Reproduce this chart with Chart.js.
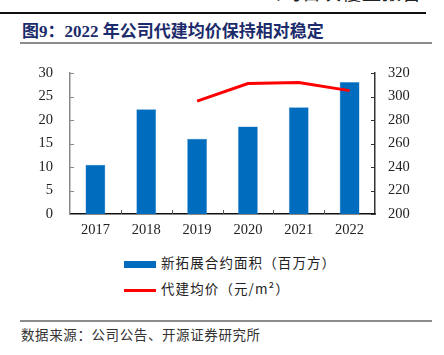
<!DOCTYPE html>
<html><head><meta charset="utf-8">
<script src="https://cdn.jsdelivr.net/npm/chart.js@4"></script>
<style>
html,body{margin:0;padding:0;background:#fff;width:444px;height:355px;overflow:hidden;position:relative;font-family:"Noto Sans CJK SC",sans-serif;}
#hdr{position:absolute;left:262px;top:-10px;height:15px;line-height:15px;font-size:19px;color:#222;letter-spacing:1px;white-space:nowrap;overflow:hidden;}
#hdr span{position:relative;top:-6px;}
#topline{position:absolute;left:0;top:12px;width:426px;height:2px;background:#111;}
#title{position:absolute;left:22px;top:17px;font-size:17px;font-weight:bold;color:#1c2b6b;font-family:"Liberation Serif","Noto Sans CJK SC",serif;white-space:nowrap;}
#line2{position:absolute;left:20px;top:42px;width:412px;height:2px;background:#8c8c8c;}
#wrap{position:absolute;left:0;top:0;width:444px;height:250px;}
#legend{position:absolute;left:124px;top:252px;font-size:13.5px;color:#222;}
.li{position:absolute;left:0;white-space:nowrap;height:20px;line-height:20px;letter-spacing:1.1px;}
.sw{display:inline-block;width:32px;vertical-align:middle;margin-right:5px;}
#line3{position:absolute;left:20px;top:320px;width:412px;height:2px;background:#8c8c8c;}
#src{position:absolute;left:21px;top:324px;font-size:13.5px;color:#333;letter-spacing:0.6px;white-space:nowrap;}
</style></head>
<body>
<div id="hdr"><span>公司首次覆盖报告</span></div>
<div id="topline"></div>
<div id="title">图9：2022 年公司代建均价保持相对稳定</div>
<div id="line2"></div>
<div id="wrap"><canvas id="c" width="444" height="250"></canvas></div>
<div id="legend"></div>
<div id="line3"></div>
<div id="src">数据来源：公司公告、开源证券研究所</div>
<script>
const categories = ['2017','2018','2019','2020','2021','2022'];
const areaValues = [10.5, 22.3, 16.0, 18.6, 22.7, 28.1];
const priceValues = [null, null, 296, 311, 312, 305];
const areaLabel = '新拓展合约面积（百万方）';
const priceLabel = '代建均价（元/m²）';
const barColor = '#006cbe';
const lineColor = '#ff0000';

const inwardTicks = {
  id:'inwardTicks',
  afterDraw(chart){
    const ctx = chart.ctx;
    const ca = chart.chartArea;
    ctx.save();
    ctx.lineWidth = 1;
    const y = chart.scales.y, y1 = chart.scales.y1, x = chart.scales.x;
    ctx.strokeStyle = '#888';
    y.ticks.forEach((t,i)=>{const p=Math.round(y.getPixelForTick(i))+0.5;ctx.beginPath();ctx.moveTo(ca.left,p);ctx.lineTo(ca.left+4,p);ctx.stroke();});
    ctx.strokeStyle = '#333';
    y1.ticks.forEach((t,i)=>{const p=Math.round(y1.getPixelForTick(i))+0.5;ctx.beginPath();ctx.moveTo(ca.right,p);ctx.lineTo(ca.right-4,p);ctx.stroke();});
    ctx.strokeStyle = '#555';
    for(let i=1;i<categories.length;i++){
      const p = Math.round((x.getPixelForValue(i-1)+x.getPixelForValue(i))/2)+0.5;
      ctx.beginPath();ctx.moveTo(p,ca.bottom);ctx.lineTo(p,ca.bottom-4);ctx.stroke();
    }
    ctx.restore();
  }
};

const tickFont = {family:'"Liberation Serif","Times New Roman",serif', size:14.5};
new Chart(document.getElementById('c'),{
  data:{
    labels:categories,
    datasets:[
      {type:'line',label:priceLabel,data:priceValues,yAxisID:'y1',borderColor:lineColor,backgroundColor:lineColor,borderWidth:3,pointRadius:0,tension:0,order:0},
      {type:'bar',label:areaLabel,data:areaValues,yAxisID:'y',backgroundColor:barColor,borderColor:'#3d8fd6',borderWidth:{left:0.5,right:0.5,top:0.5,bottom:0},barPercentage:0.39,categoryPercentage:1,order:1}
    ]
  },
  options:{
    responsive:false,animation:false,
    layout:{padding:{top:73,left:0,right:0,bottom:0}},
    plugins:{legend:{display:false},tooltip:{enabled:false}},
    scales:{
      x:{
        grid:{display:false,drawTicks:false},
        border:{display:true,color:'#111',width:1.5},
        ticks:{color:'#222',font:tickFont,padding:7,maxRotation:0},
        afterFit(s){s.height=36;}
      },
      y:{
        position:'left',min:0,max:30,
        grid:{display:false,drawTicks:false},
        border:{display:true,color:'#8a8a8a',width:1.5},
        ticks:{stepSize:5,color:'#222',font:tickFont,padding:17},
        afterFit(s){s.width=70;}
      },
      y1:{
        position:'right',min:200,max:320,
        grid:{display:false,drawTicks:false},
        border:{display:true,color:'#333',width:1.5},
        ticks:{stepSize:20,color:'#222',font:tickFont,padding:13},
        afterFit(s){s.width=69;}
      }
    }
  },
  plugins:[inwardTicks]
});

const lg = document.getElementById('legend');
[[areaLabel,barColor,'bar'],[priceLabel,lineColor,'line']].forEach((d,i)=>{
  const div=document.createElement('div');div.className='li';div.style.top=(i*26)+'px';
  const sw=document.createElement('span');sw.className='sw';
  sw.style.height = d[2]==='bar' ? '7px' : '3px';
  sw.style.background=d[1];
  div.appendChild(sw);div.appendChild(document.createTextNode(d[0]));lg.appendChild(div);
});
</script>
</body></html>
